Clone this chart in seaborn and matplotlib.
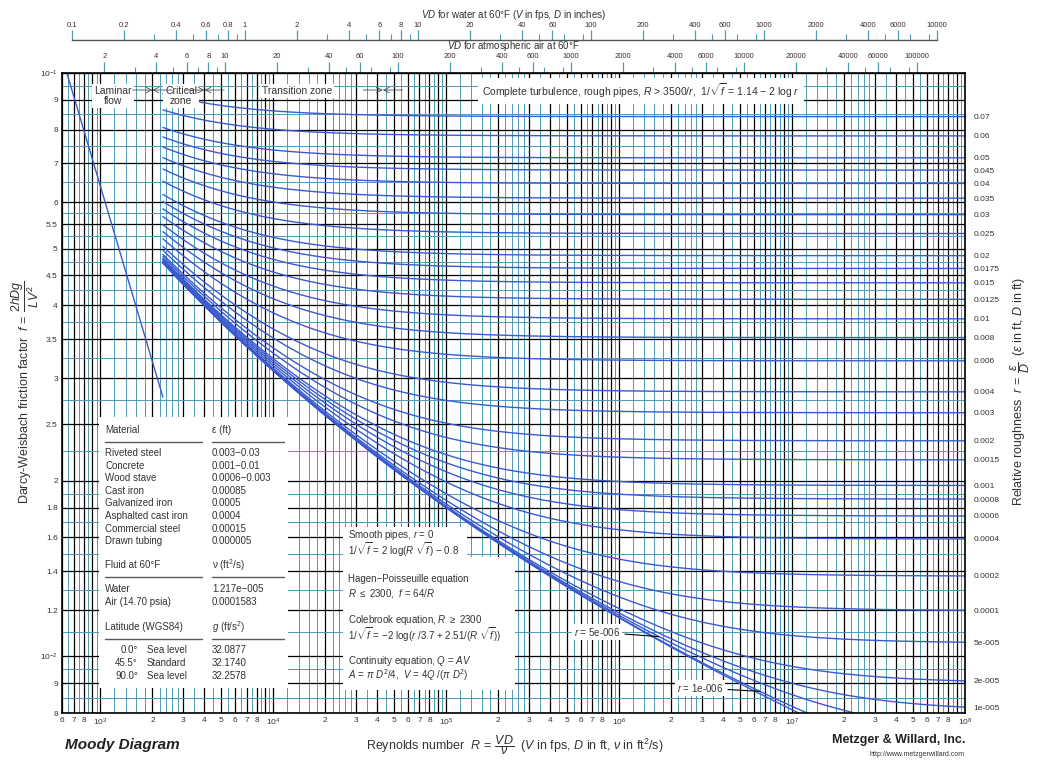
import numpy as np
import pandas as pd
import seaborn as sns
import matplotlib
matplotlib.use('Agg')  # no display
import matplotlib.pyplot as plt
from matplotlib.ticker import FixedLocator, FixedFormatter, NullLocator, NullFormatter
from matplotlib.patches import Rectangle

# relative roughness of the curves labelled on the right edge
roughness = [0.07, 0.06, 0.05, 0.045, 0.04, 0.035, 0.03, 0.025, 0.02, 0.0175,
             0.015, 0.0125, 0.01, 0.008, 0.006, 0.004, 0.003, 0.002, 0.0015,
             0.001, 0.0008, 0.0006, 0.0004, 0.0002, 0.0001, 5e-5, 2e-5, 1e-5]
roughness_labels = ['0.07', '0.06', '0.05', '0.045', '0.04', '0.035', '0.03',
                    '0.025', '0.02', '0.0175', '0.015', '0.0125', '0.01', '0.008',
                    '0.006', '0.004', '0.003', '0.002', '0.0015', '0.001',
                    '0.0008', '0.0006', '0.0004', '0.0002', '0.0001',
                    '5e-005', '2e-005', '1e-005']
# curves that run out through the bottom (inline labels) and smooth pipe
extra_roughness = [5e-6, 1e-6, 0.0]

re_min, re_max = 600, 1e8
re_critical = 2300
laminar_re = [600, 2300]

nu_water = 1.217e-5   # ft^2/s
nu_air = 0.0001583

water_ticks = [0.1, 0.2, 0.4, 0.6, 0.8, 1, 2, 4, 6, 8, 10, 20, 40, 60, 100, 200,
               400, 600, 1000, 2000, 4000, 6000, 10000]
air_ticks = [2, 4, 6, 8, 10, 20, 40, 60, 100, 200, 400, 600, 1000, 2000, 4000,
             6000, 10000, 20000, 40000, 60000, 100000]

f_ticks = [0.008, 0.009, 0.01, 0.012, 0.014, 0.016, 0.018, 0.02, 0.025, 0.03,
           0.035, 0.04, 0.045, 0.05, 0.055, 0.06, 0.07, 0.08, 0.09, 0.1]
f_tick_labels = ['8', '9', r'$10^{-2}$', '1.2', '1.4', '1.6', '1.8', '2', '2.5',
                 '3', '3.5', '4', '4.5', '5', '5.5', '6', '7', '8', '9', r'$10^{-1}$']
f_minor = [0.0085, 0.0095, 0.011, 0.013, 0.015, 0.017, 0.019, 0.0225, 0.0275,
           0.0325, 0.0375, 0.0425, 0.0475, 0.0525, 0.0575, 0.065, 0.075, 0.085, 0.095]

materials = ['Riveted steel', 'Concrete', 'Wood stave', 'Cast iron',
             'Galvanized iron', 'Asphalted cast iron', 'Commercial steel',
             'Drawn tubing']
eps_values = ['0.003\u22120.03', '0.001\u22120.01', '0.0006\u22120.003', '0.00085',
              '0.0005', '0.0004', '0.00015', '0.000005']
fluids = ['Water', 'Air (14.70 psia)']
nu_values = ['1.217e\u2212005', '0.0001583']
latitudes = ['0.0\u00b0', '45.5\u00b0', '90.0\u00b0']
lat_names = ['Sea level', 'Standard', 'Sea level']
gravity = ['32.0877', '32.1740', '32.2578']

BLUE = '#3a5bd0'
TEAL = '#4d9bb5'
TXT = '#333333'


def colebrook(re, r):
    re = np.asarray(re, float)
    f = np.full_like(re, 0.02)
    for _ in range(60):
        f = (-2 * np.log10(r / 3.7 + 2.51 / (re * np.sqrt(f)))) ** -2
    return f


re_grid = np.geomspace(re_critical, re_max, 400)
rows = []
for r in roughness + extra_roughness:
    rows.append(pd.DataFrame({'Re': re_grid, 'f': colebrook(re_grid, r), 'r': r}))
curves = pd.concat(rows, ignore_index=True)
laminar = pd.DataFrame({'Re': laminar_re, 'f': [64 / R for R in laminar_re]})

sns.set_style('ticks')
plt.rcParams['font.family'] = ['Liberation Sans', 'DejaVu Sans']
plt.rcParams['mathtext.fontset'] = 'custom'
plt.rcParams['mathtext.rm'] = 'Liberation Sans'
plt.rcParams['mathtext.it'] = 'Liberation Sans:italic'
plt.rcParams['mathtext.bf'] = 'Liberation Sans:bold'

fig = plt.figure(figsize=(10.37, 7.64), dpi=100)
L, R_, T, B = 62, 965, 73, 713
W, H = 1037, 764
ax = fig.add_axes([L / W, 1 - B / H, (R_ - L) / W, (B - T) / H])


def axpos(px, py):
    return (px - L) / (R_ - L), (B - py) / (B - T)


sns.lineplot(data=curves, x='Re', y='f', units='r', estimator=None, sort=False,
             color=BLUE, lw=1.0, ax=ax, legend=False, zorder=2)
sns.lineplot(data=laminar, x='Re', y='f', color=BLUE, lw=1.0, ax=ax, zorder=2)

ax.set_xscale('log')
ax.set_yscale('log')
ax.set_xlim(re_min, re_max)
ax.set_ylim(0.008, 0.1)
ax.set_xlabel('')
ax.set_ylabel('')

# grid: black at 1..9 x 10^n, teal subdivisions
x_major = [m * 10 ** n for n in range(2, 8) for m in range(1, 10) if m * 10 ** n >= re_min] + [re_max]
x_labels = []
for v in x_major:
    lead = str(int(v))[0]
    if lead == '1':
        x_labels.append(r'$10^{%d}$' % round(np.log10(v)))
    elif lead == '9':
        x_labels.append('')
    else:
        x_labels.append(lead)
x_minor = [m * 10 ** n for n in range(2, 8)
           for m in (1.2, 1.4, 1.6, 1.8, 2.2, 2.4, 2.6, 2.8, 3.5, 4.5, 5.5, 6.5, 7.5, 8.5, 9.5)
           if re_min < m * 10 ** n < re_max]
ax.xaxis.set_major_locator(FixedLocator(x_major))
ax.xaxis.set_major_formatter(FixedFormatter(x_labels))
ax.xaxis.set_minor_locator(FixedLocator(x_minor))
ax.xaxis.set_minor_formatter(NullFormatter())
ax.yaxis.set_major_locator(FixedLocator(f_ticks))
ax.yaxis.set_major_formatter(FixedFormatter(f_tick_labels))
ax.yaxis.set_minor_locator(FixedLocator(f_minor))
ax.yaxis.set_minor_formatter(NullFormatter())
ax.tick_params(which='both', length=0, labelsize=6, colors=TXT, pad=3)
ax.set_axisbelow(True)
ax.grid(which='minor', color=TEAL, lw=0.7)
ax.grid(which='major', color='black', lw=0.9)
for s in ax.spines.values():
    s.set_color('black')
    s.set_linewidth(1.2)

# right-hand roughness labels
ax_r = ax.twinx()
ax_r.set_yscale('log')
ax_r.set_ylim(ax.get_ylim())
f_end = [float(colebrook([re_max], r)[0]) for r in roughness]
ax_r.yaxis.set_major_locator(FixedLocator(f_end))
ax_r.yaxis.set_major_formatter(FixedFormatter(roughness_labels))
ax_r.yaxis.set_minor_locator(NullLocator())
ax_r.yaxis.set_minor_formatter(NullFormatter())
ax_r.tick_params(length=0, labelsize=6, colors=TXT, pad=6)
ax_r.grid(False)
for s in ax_r.spines.values():
    s.set_visible(False)

# top axes: VD for air and for water (D in inches)
sec_air = ax.secondary_xaxis('top', functions=(lambda re: re * 12 * nu_air,
                                               lambda vd: vd / (12 * nu_air)))
sec_air.xaxis.set_major_locator(FixedLocator(air_ticks))
sec_air.xaxis.set_major_formatter(FixedFormatter([f'{v:g}' for v in air_ticks]))
sec_air.xaxis.set_minor_locator(FixedLocator([m * 10 ** n for n in range(0, 6) for m in (3, 5, 7, 9)]))
sec_air.xaxis.set_minor_formatter(NullFormatter())
sec_air.tick_params(which='major', length=8, width=0.9, color=TEAL, labelsize=5.5,
                    labelcolor=TXT, pad=1)
sec_air.tick_params(which='minor', length=4, width=0.8, color=TEAL)
sec_air.set_xlabel(r'$VD$ for atmospheric air at 60°F', fontsize=7, color=TXT, labelpad=3)

sec_w = ax.secondary_xaxis((B - 40) / (B - T),
                           functions=(lambda re: re * 12 * nu_water,
                                      lambda vd: vd / (12 * nu_water)))
sec_w.xaxis.set_major_locator(FixedLocator(water_ticks))
sec_w.xaxis.set_major_formatter(FixedFormatter([f'{v:g}' for v in water_ticks]))
sec_w.xaxis.set_minor_locator(FixedLocator([m * 10 ** n for n in range(-1, 4) for m in (3, 5, 7, 9)]))
sec_w.xaxis.set_minor_formatter(NullFormatter())
sec_w.tick_params(which='major', length=7, width=0.9, color=TEAL, labelsize=5.5,
                  labelcolor=TXT, pad=1)
sec_w.tick_params(which='minor', length=4, width=0.8, color=TEAL)
for s in ('top', 'bottom'):
    sec_w.spines[s].set_bounds(water_ticks[0], water_ticks[-1])
    sec_w.spines[s].set_color('#555555')
    sec_w.spines[s].set_linewidth(1.0)
sec_w.set_xlabel(r'$VD$ for water at 60°F ($V$ in fps, $D$ in inches)', fontsize=7,
                 color=TXT, labelpad=3)

# flow regime band
box = dict(fc='white', ec='none', pad=1.5)
band = [('Laminar\nflow', 113, 96), ('Critical\nzone', 181, 96), ('Transition zone', 297, 91)]
for txt, px, py in band:
    ax.text(*axpos(px, py), txt, transform=ax.transAxes, ha='center', va='center',
            fontsize=7.5, color=TXT, linespacing=1.05, bbox=box, zorder=6)
ax.text(*axpos(482, 91), r'Complete turbulence, rough pipes, $R$ > 3500/$r$,  1/$\sqrt{f}$ = 1.14 $-$ 2 log $r$',
        transform=ax.transAxes, ha='left', va='center', fontsize=7.5, color=TXT,
        bbox=dict(fc='white', ec='none', pad=3), zorder=6)
f_arrow = 0.0935
for b in (2000, 4000, 4.3e4):
    for side in (1 / 1.3, 1.3):
        ax.annotate('', xy=(b, f_arrow), xytext=(b * side, f_arrow),
                    arrowprops=dict(arrowstyle='->', lw=0.6, color='0.3',
                                    shrinkA=0, shrinkB=0), zorder=6)

# material / fluid table
ax.add_patch(Rectangle(axpos(99, 688), (288 - 99) / (R_ - L), (688 - 417) / (B - T),
                       transform=ax.transAxes, fc='white', ec='none', zorder=5))


def cell(px, py, txt, ha='left'):
    ax.text(*axpos(px, py), txt, transform=ax.transAxes, ha=ha, va='center',
            fontsize=7, color=TXT, zorder=6)


def rule(py):
    for x0, x1 in ((105, 202), (212, 284)):
        ax.plot([axpos(x0, py)[0], axpos(x1, py)[0]], [axpos(x0, py)[1]] * 2,
                transform=ax.transAxes, color='0.35', lw=1.0, zorder=6)


cell(105, 430, 'Material')
cell(212, 430, '\u03b5 (ft)')
rule(442)
for i, (m, e) in enumerate(zip(materials, eps_values)):
    cell(105, 453 + 12.6 * i, m)
    cell(212, 453 + 12.6 * i, e)
cell(105, 565, 'Fluid at 60°F')
cell(212, 565, '\u03bd (ft$^2$/s)')
rule(577)
for i, (fl, nv) in enumerate(zip(fluids, nu_values)):
    cell(105, 589 + 12.8 * i, fl)
    cell(212, 589 + 12.8 * i, nv)
cell(105, 627, 'Latitude (WGS84)')
cell(212, 627, r'$g$ (ft/s$^2$)')
rule(639)
for i, (la, nm, g) in enumerate(zip(latitudes, lat_names, gravity)):
    cell(138, 650 + 12.8 * i, la, ha='right')
    cell(147, 650 + 12.8 * i, nm)
    cell(212, 650 + 12.8 * i, g)

# equation box
ax.add_patch(Rectangle(axpos(343, 557), (467 - 343) / (R_ - L), (557 - 527) / (B - T),
                       transform=ax.transAxes, fc='white', ec='none', zorder=5))
ax.add_patch(Rectangle(axpos(343, 690), (515 - 343) / (R_ - L), (690 - 557) / (B - T),
                       transform=ax.transAxes, fc='white', ec='none', zorder=5))
equations = [
    (535, r'Smooth pipes, $r$ = 0'),
    (550, r'1/$\sqrt{f}$ = 2 log($R$ $\sqrt{f}$) $-$ 0.8'),
    (579, 'Hagen\u2212Poisseuille equation'),
    (593, r'$R$ $\leq$ 2300,  $f$ = 64/$R$'),
    (620, r'Colebrook equation, $R$ $\geq$ 2300'),
    (635, r'1/$\sqrt{f}$ = $-$2 log($r$ /3.7 + 2.51/($R$ $\sqrt{f}$))'),
    (661, r'Continuity equation, $Q$ = $AV$'),
    (675, r'$A$ = $\pi$ $D^2$/4,  $V$ = 4$Q$ /($\pi$ $D^2$)'),
]
for py, txt in equations:
    cell(348, py, txt)

# inline labels for the two smallest roughness curves
for r, txt, px, py, re_pt in ((5e-6, r'$r$ = 5e-006', 597, 632, 1.7e6),
                              (1e-6, r'$r$ = 1e-006', 700, 688, 6.5e6)):
    ax.annotate(txt, xy=(re_pt, float(colebrook([re_pt], r)[0])),
                xytext=axpos(px, py), textcoords='axes fraction',
                ha='center', va='center', fontsize=7, color=TXT, zorder=6,
                bbox=dict(fc='white', ec='none', pad=1.5),
                arrowprops=dict(arrowstyle='-', lw=0.8, color='black', shrinkA=2, shrinkB=0))

# outer labels
fig.text(25 / W, 1 - 392 / H, r'Darcy-Weisbach friction factor  $f\,=\,\dfrac{2hDg}{LV^2}$',
         rotation=90, ha='center', va='center', fontsize=9, color=TXT)
fig.text(1020 / W, 1 - 392 / H,
         r'Relative roughness  $r\,=\,\dfrac{\varepsilon}{D}$  ($\varepsilon$ in ft, $D$ in ft)',
         rotation=90, ha='center', va='center', fontsize=9, color=TXT)
fig.text(515 / W, 1 - 745 / H,
         r'Reynolds number  $R\,=\,\dfrac{VD}{\nu}$  ($V$ in fps, $D$ in ft, $\nu$ in ft$^2$/s)',
         ha='center', va='center', fontsize=9, color=TXT)
fig.text(65 / W, 1 - 745 / H, 'Moody Diagram', fontsize=11, weight='bold', style='italic',
         color='#222222', va='center')
fig.text(965 / W, 1 - 740 / H, 'Metzger & Willard, Inc.', fontsize=9, weight='bold',
         color='#222222', ha='right', va='center')
fig.text(965 / W, 1 - 754 / H, 'http://www.metzgerwillard.com', fontsize=5,
         color='#333333', ha='right', va='center')

fig.savefig('out.png', dpi=100)
